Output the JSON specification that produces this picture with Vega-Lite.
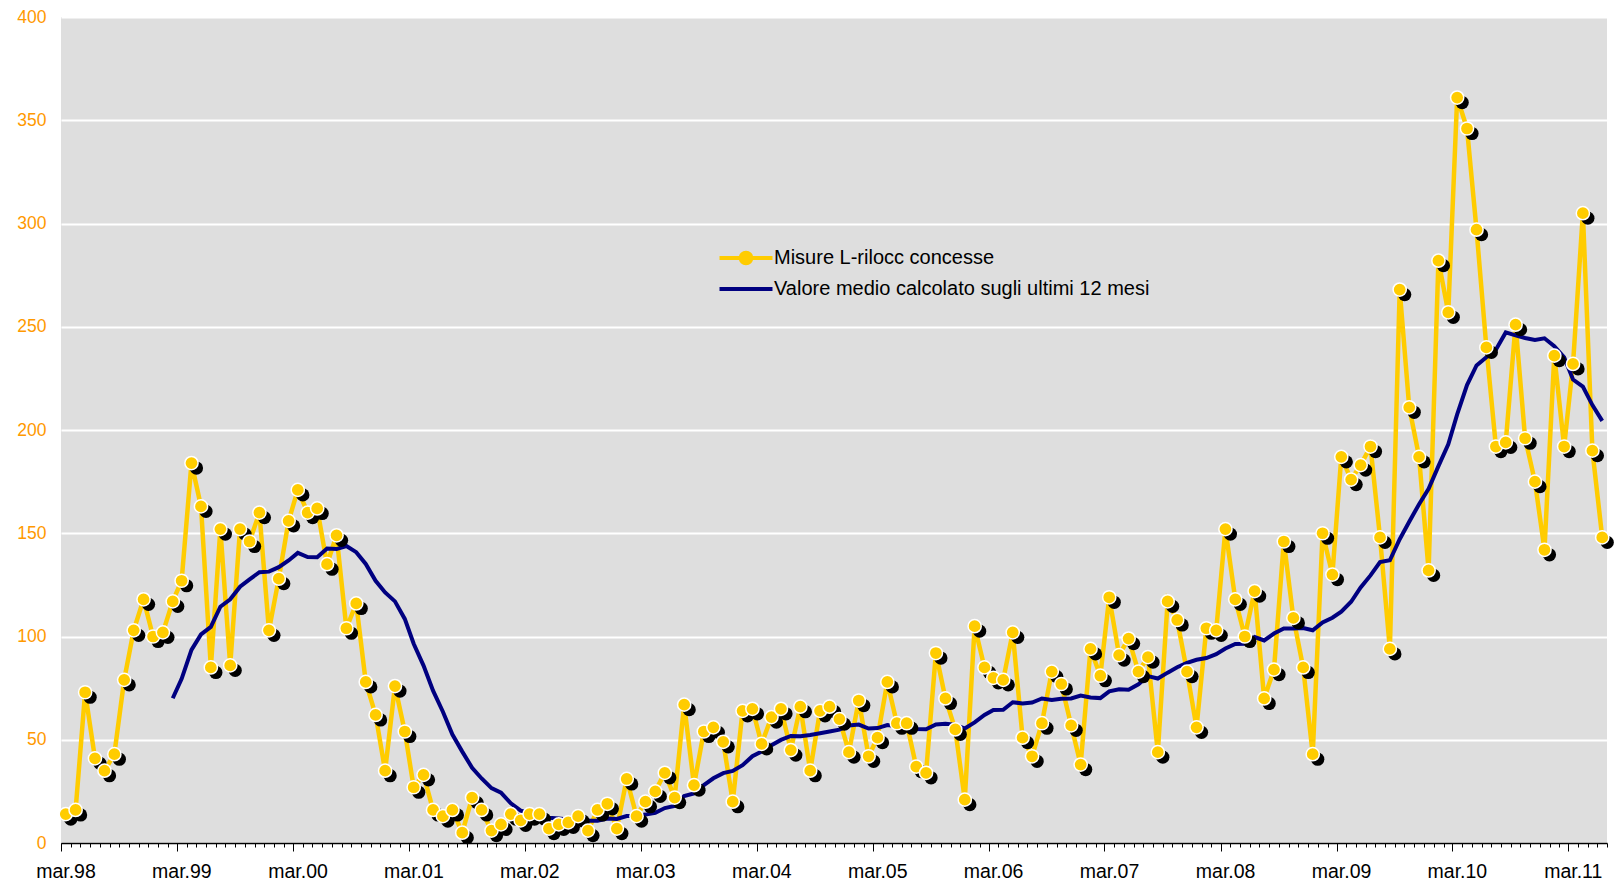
{
  "$schema": "https://vega.github.io/schema/vega-lite/v6.json",
  "width": 1546,
  "height": 826,
  "autosize": {"type": "none"},
  "padding": {"left": 61, "top": 17, "right": 8, "bottom": 40},
  "background": "white",
  "config": {
    "view": {"fill": "#DEDEDE", "stroke": null},
    "font": "Liberation Sans"
  },
  "data": {
    "values": [
      {"d": "1998-03-16", "v": 14}, {"d": "1998-04-16", "v": 16}, {"d": "1998-05-16", "v": 73}, {"d": "1998-06-16", "v": 41}, {"d": "1998-07-16", "v": 35}, {"d": "1998-08-16", "v": 43}, {"d": "1998-09-16", "v": 79}, {"d": "1998-10-16", "v": 103}, {"d": "1998-11-16", "v": 118}, {"d": "1998-12-16", "v": 100},
      {"d": "1999-01-16", "v": 102}, {"d": "1999-02-16", "v": 117}, {"d": "1999-03-16", "v": 127}, {"d": "1999-04-16", "v": 184}, {"d": "1999-05-16", "v": 163}, {"d": "1999-06-16", "v": 85}, {"d": "1999-07-16", "v": 152}, {"d": "1999-08-16", "v": 86}, {"d": "1999-09-16", "v": 152}, {"d": "1999-10-16", "v": 146}, {"d": "1999-11-16", "v": 160}, {"d": "1999-12-16", "v": 103},
      {"d": "2000-01-16", "v": 128}, {"d": "2000-02-16", "v": 156}, {"d": "2000-03-16", "v": 171}, {"d": "2000-04-16", "v": 160}, {"d": "2000-05-16", "v": 162}, {"d": "2000-06-16", "v": 135}, {"d": "2000-07-16", "v": 149}, {"d": "2000-08-16", "v": 104}, {"d": "2000-09-16", "v": 116}, {"d": "2000-10-16", "v": 78}, {"d": "2000-11-16", "v": 62}, {"d": "2000-12-16", "v": 35},
      {"d": "2001-01-16", "v": 76}, {"d": "2001-02-16", "v": 54}, {"d": "2001-03-16", "v": 27}, {"d": "2001-04-16", "v": 33}, {"d": "2001-05-16", "v": 16}, {"d": "2001-06-16", "v": 13}, {"d": "2001-07-16", "v": 16}, {"d": "2001-08-16", "v": 5}, {"d": "2001-09-16", "v": 22}, {"d": "2001-10-16", "v": 16}, {"d": "2001-11-16", "v": 6}, {"d": "2001-12-16", "v": 9},
      {"d": "2002-01-16", "v": 14}, {"d": "2002-02-16", "v": 11}, {"d": "2002-03-16", "v": 14}, {"d": "2002-04-16", "v": 14}, {"d": "2002-05-16", "v": 7}, {"d": "2002-06-16", "v": 9}, {"d": "2002-07-16", "v": 10}, {"d": "2002-08-16", "v": 13}, {"d": "2002-09-16", "v": 6}, {"d": "2002-10-16", "v": 16}, {"d": "2002-11-16", "v": 19}, {"d": "2002-12-16", "v": 7},
      {"d": "2003-01-16", "v": 31}, {"d": "2003-02-16", "v": 13}, {"d": "2003-03-16", "v": 20}, {"d": "2003-04-16", "v": 25}, {"d": "2003-05-16", "v": 34}, {"d": "2003-06-16", "v": 22}, {"d": "2003-07-16", "v": 67}, {"d": "2003-08-16", "v": 28}, {"d": "2003-09-16", "v": 54}, {"d": "2003-10-16", "v": 56}, {"d": "2003-11-16", "v": 49}, {"d": "2003-12-16", "v": 20},
      {"d": "2004-01-16", "v": 64}, {"d": "2004-02-16", "v": 65}, {"d": "2004-03-16", "v": 48}, {"d": "2004-04-16", "v": 61}, {"d": "2004-05-16", "v": 65}, {"d": "2004-06-16", "v": 45}, {"d": "2004-07-16", "v": 66}, {"d": "2004-08-16", "v": 35}, {"d": "2004-09-16", "v": 64}, {"d": "2004-10-16", "v": 66}, {"d": "2004-11-16", "v": 60}, {"d": "2004-12-16", "v": 44},
      {"d": "2005-01-16", "v": 69}, {"d": "2005-02-16", "v": 42}, {"d": "2005-03-16", "v": 51}, {"d": "2005-04-16", "v": 78}, {"d": "2005-05-16", "v": 58}, {"d": "2005-06-16", "v": 58}, {"d": "2005-07-16", "v": 37}, {"d": "2005-08-16", "v": 34}, {"d": "2005-09-16", "v": 92}, {"d": "2005-10-16", "v": 70}, {"d": "2005-11-16", "v": 55}, {"d": "2005-12-16", "v": 21},
      {"d": "2006-01-16", "v": 105}, {"d": "2006-02-16", "v": 85}, {"d": "2006-03-16", "v": 80}, {"d": "2006-04-16", "v": 79}, {"d": "2006-05-16", "v": 102}, {"d": "2006-06-16", "v": 51}, {"d": "2006-07-16", "v": 42}, {"d": "2006-08-16", "v": 58}, {"d": "2006-09-16", "v": 83}, {"d": "2006-10-16", "v": 77}, {"d": "2006-11-16", "v": 57}, {"d": "2006-12-16", "v": 38},
      {"d": "2007-01-16", "v": 94}, {"d": "2007-02-16", "v": 81}, {"d": "2007-03-16", "v": 119}, {"d": "2007-04-16", "v": 91}, {"d": "2007-05-16", "v": 99}, {"d": "2007-06-16", "v": 83}, {"d": "2007-07-16", "v": 90}, {"d": "2007-08-16", "v": 44}, {"d": "2007-09-16", "v": 117}, {"d": "2007-10-16", "v": 108}, {"d": "2007-11-16", "v": 83}, {"d": "2007-12-16", "v": 56},
      {"d": "2008-01-16", "v": 104}, {"d": "2008-02-16", "v": 103}, {"d": "2008-03-16", "v": 152}, {"d": "2008-04-16", "v": 118}, {"d": "2008-05-16", "v": 100}, {"d": "2008-06-16", "v": 122}, {"d": "2008-07-16", "v": 70}, {"d": "2008-08-16", "v": 84}, {"d": "2008-09-16", "v": 146}, {"d": "2008-10-16", "v": 109}, {"d": "2008-11-16", "v": 85}, {"d": "2008-12-16", "v": 43},
      {"d": "2009-01-16", "v": 150}, {"d": "2009-02-16", "v": 130}, {"d": "2009-03-16", "v": 187}, {"d": "2009-04-16", "v": 176}, {"d": "2009-05-16", "v": 183}, {"d": "2009-06-16", "v": 192}, {"d": "2009-07-16", "v": 148}, {"d": "2009-08-16", "v": 94}, {"d": "2009-09-16", "v": 268}, {"d": "2009-10-16", "v": 211}, {"d": "2009-11-16", "v": 187}, {"d": "2009-12-16", "v": 132},
      {"d": "2010-01-16", "v": 282}, {"d": "2010-02-16", "v": 257}, {"d": "2010-03-16", "v": 361}, {"d": "2010-04-16", "v": 346}, {"d": "2010-05-16", "v": 297}, {"d": "2010-06-16", "v": 240}, {"d": "2010-07-16", "v": 192}, {"d": "2010-08-16", "v": 194}, {"d": "2010-09-16", "v": 251}, {"d": "2010-10-16", "v": 196}, {"d": "2010-11-16", "v": 175}, {"d": "2010-12-16", "v": 142},
      {"d": "2011-01-16", "v": 236}, {"d": "2011-02-16", "v": 192}, {"d": "2011-03-16", "v": 232}, {"d": "2011-04-16", "v": 305}, {"d": "2011-05-16", "v": 190}, {"d": "2011-06-16", "v": 148}
    ]
  },
  "layer": [
    {
      "mark": {"type": "line", "strokeWidth": 4.5, "strokeJoin": "miter"},
      "encoding": {
        "x": {
          "field": "d", "type": "temporal",
          "scale": {"type": "utc", "nice": false, "domain": [{"year": 1998, "month": 3, "date": 1, "utc": true}, {"year": 2011, "month": 7, "date": 1, "utc": true}]},
          "axis": {
            "orient": "bottom", "title": null, "grid": false,
            "values": [
              {"year": 1998, "month": 3, "date": 1, "utc": true}, {"year": 1999, "month": 3, "date": 1, "utc": true}, {"year": 2000, "month": 3, "date": 1, "utc": true}, {"year": 2001, "month": 3, "date": 1, "utc": true}, {"year": 2002, "month": 3, "date": 1, "utc": true}, {"year": 2003, "month": 3, "date": 1, "utc": true}, {"year": 2004, "month": 3, "date": 1, "utc": true}, {"year": 2005, "month": 3, "date": 1, "utc": true}, {"year": 2006, "month": 3, "date": 1, "utc": true}, {"year": 2007, "month": 3, "date": 1, "utc": true}, {"year": 2008, "month": 3, "date": 1, "utc": true}, {"year": 2009, "month": 3, "date": 1, "utc": true}, {"year": 2010, "month": 3, "date": 1, "utc": true}, {"year": 2011, "month": 3, "date": 1, "utc": true}
            ],
            "labelExpr": "lower(utcFormat(datum.value, '%b.%y'))",
            "tickSize": 8, "tickColor": "black", "tickWidth": 1,
            "domainColor": "black", "domainWidth": 1.5,
            "labelFont": "Liberation Sans", "labelFontSize": 19.5, "labelColor": "black",
            "labelPadding": 11, "labelOffset": 4.5, "labelFlush": false, "labelOverlap": false, "labelBound": false
          }
        },
        "y": {
          "field": "v", "type": "quantitative",
          "scale": {"domain": [0, 400], "nice": false},
          "axis": {"title": null, "values": [0, 50, 100, 150, 200, 250, 300, 350, 400], "domain": false, "ticks": false, "grid": true, "gridColor": "white", "gridWidth": 2, "gridOpacity": 1, "labelColor": "#FF9900", "labelFont": "Liberation Sans", "labelFontSize": 17.5, "labelPadding": 15}
        },
        "color": {
          "datum": "Misure L-rilocc concesse",
          "scale": {"domain": ["Misure L-rilocc concesse", "Valore medio calcolato sugli ultimi 12 mesi"], "range": ["#FFCC00", "#000080"]},
          "legend": {
            "title": null, "orient": "none", "legendX": 647, "legendY": 230,
            "labelFont": "Liberation Sans", "labelFontSize": 20, "labelColor": "black", "labelLimit": 0,
            "symbolSize": 312, "symbolStrokeWidth": 4, "symbolOffset": 27, "labelOffset": 17,
            "rowPadding": 6, "padding": 0, "symbolType": "M-3,0L3,0",
            "encode": {
              "symbols": {
                "update": {
                  "shape": {"signal": "datum.value === 'Misure L-rilocc concesse' ? 'M-3,0L-0.6,0M0.6,0L3,0M-0.6,0A0.6,0.6,0,1,1,0.6,0A0.6,0.6,0,1,1,-0.6,0Z' : 'M-3,0L3,0'"},
                  "fill": {"value": "#FFCC00"},
                  "strokeWidth": {"value": 4},
                  "opacity": {"value": 1}
                }
              }
            }
          }
        }
      }
    },
    {
      "transform": [
        {"window": [{"op": "mean", "field": "v", "as": "ma"}, {"op": "count", "field": "v", "as": "n"}], "frame": [-11, 0], "sort": [{"field": "d"}]},
        {"filter": "datum.n == 12"}
      ],
      "mark": {"type": "line", "strokeWidth": 4},
      "encoding": {
        "x": {
          "field": "d", "type": "temporal",
          "scale": {"type": "utc", "nice": false, "domain": [{"year": 1998, "month": 3, "date": 1, "utc": true}, {"year": 2011, "month": 7, "date": 1, "utc": true}]},
          "axis": {"orient": "bottom", "title": null, "grid": false, "labels": false, "domain": false, "tickCount": {"interval": "month", "step": 1}, "tickSize": 4, "tickColor": "black", "tickWidth": 1}
        },
        "y": {
          "field": "ma", "type": "quantitative",
          "scale": {"domain": [0, 400], "nice": false},
          "axis": {"title": null, "values": [0, 50, 100, 150, 200, 250, 300, 350, 400], "domain": false, "ticks": false, "grid": true, "gridColor": "white", "gridWidth": 2, "gridOpacity": 1, "labelColor": "#FF9900", "labelFont": "Liberation Sans", "labelFontSize": 17.5, "labelPadding": 15}
        },
        "color": {"datum": "Valore medio calcolato sugli ultimi 12 mesi"}
      }
    },
    {
      "mark": {"type": "point", "shape": "circle", "filled": true, "size": 175, "fill": "black", "fillOpacity": 1, "strokeWidth": 0, "xOffset": 5, "yOffset": 5},
      "encoding": {
        "x": {"field": "d", "type": "temporal", "axis": null},
        "y": {"field": "v", "type": "quantitative"}
      }
    },
    {
      "mark": {"type": "point", "shape": "circle", "filled": true, "size": 175, "fill": "#FFCC00", "fillOpacity": 1, "stroke": "white", "strokeWidth": 1.5, "strokeOpacity": 1},
      "encoding": {
        "x": {"field": "d", "type": "temporal", "axis": null},
        "y": {"field": "v", "type": "quantitative"}
      }
    }
  ],
  "resolve": {"axis": {"x": "independent"}}
}
